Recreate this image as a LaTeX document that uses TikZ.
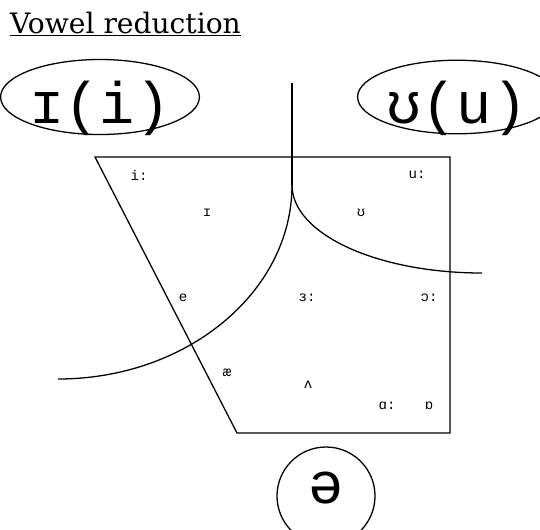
\documentclass[tikz,border=0pt]{standalone}
\usepackage{fontspec}
\setmainfont{DejaVu Serif}
\newfontfamily\ipafont{Liberation Mono}
\usetikzlibrary{shapes.geometric}
\newcommand{\ipabig}{\ipafont\fontsize{50}{54}\selectfont}
\newcommand{\ipasmall}{\ipafont\fontsize{12}{14}\selectfont}

\begin{document}
\begin{tikzpicture}[
    x=0.03cm, y=-0.03cm,
    line/.style={line width=1.1pt},
    reduced/.style={ellipse, draw, line width=1.1pt, inner sep=0pt, font=\ipabig},
    vowel/.style={inner sep=0pt, font=\ipasmall}
  ]
    \useasboundingbox (0,0) rectangle (540,529);

    % Title
    \node[anchor=base west, inner sep=0pt, font=\fontsize{24}{28}\selectfont] (title) at (10,33) {\underline{Vowel reduction}};

    % Reduced targets
    \node[reduced, minimum width=5.52cm, minimum height=2.25cm, text height=1.56cm, text depth=0cm] (iset) at (100,97) {ɪ(i)};
    \node[reduced, minimum width=5.7cm, minimum height=2.16cm, text height=1.56cm, text depth=0cm] (uset) at (457,97) {ʊ(u)};
    \node[reduced, circle, minimum size=2.94cm, text height=0.44cm, text depth=0cm] (schwa) at (326,496) {ə};

    % Vowel chart
    \coordinate (tl) at (95,157);
    \coordinate (tr) at (450,157);
    \coordinate (br) at (450,433);
    \coordinate (bl) at (237,433);
    \draw[line] (tl) -- (tr) -- (br) -- (bl) -- cycle;

    % Vowels
    \node[vowel] (ilong) at (139,175) {i:};
    \node[vowel] (ishort) at (207,213) {ɪ};
    \node[vowel] (ulong) at (417,175) {u:};
    \node[vowel] (ushort) at (361,213) {ʊ};
    \node[vowel] (e) at (183,298) {e};
    \node[vowel] (er) at (307,298) {ɜ:};
    \node[vowel] (or) at (429,298) {ɔ:};
    \node[vowel] (ae) at (227,373) {æ};
    \node[vowel] (uh) at (308,385) {ʌ};
    \node[vowel] (ar) at (387,406) {ɑ:};
    \node[vowel] (o) at (429,406) {ɒ};

    % Dividing lines
    \coordinate (top) at (292,83);
    \coordinate (split) at (292,185);
    \coordinate (leftend) at (58,379);
    \coordinate (rightend) at (482,273);
    \draw[line] (top) -- (split);
    \draw[line] (split) .. controls (292,292) and (187,379) .. (leftend);
    \draw[line] (split) .. controls (292,234) and (377,273) .. (rightend);
\end{tikzpicture}
\end{document}
